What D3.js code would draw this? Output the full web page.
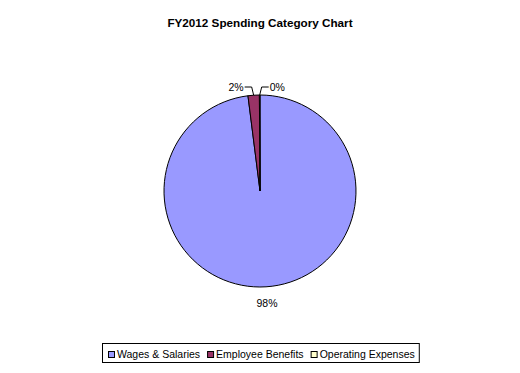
<!DOCTYPE html>
<html>
<head>
<meta charset="utf-8">
<script src="https://cdn.jsdelivr.net/npm/d3@7"></script>
<style>
  body { margin: 0; background: #fff; }
  text { font-family: Arial, "Liberation Sans", sans-serif; }
</style>
</head>
<body>
<div class="chart"></div>
<script>
const categories = ["Wages & Salaries", "Employee Benefits", "Operating Expenses"];
const values = [98.0, 1.9, 0.1];
const pctLabels = ["98%", "2%", "0%"];
const colors = ["#9999FF", "#993366", "#FFFFCC"];

const w = 520, h = 373;
const cx = 260, cy = 191, r = 96;

const svg = d3.select('.chart')
    .append('svg')
    .attr('width', w)
    .attr('height', h);

svg.append('rect').attr('width', w).attr('height', h).attr('fill', '#fff');

// title
svg.append('text')
    .attr('x', 260)
    .attr('y', 27)
    .attr('text-anchor', 'middle')
    .attr('font-size', 11.7)
    .attr('font-weight', 'bold')
    .text('FY2012 Spending Category Chart');

const pie = d3.pie().sort(null).value(d => d);
const arcs = pie(values);
const arc = d3.arc().innerRadius(0).outerRadius(r);

const g = svg.append('g').attr('transform', `translate(${cx},${cy})`);

g.selectAll('path')
    .data(arcs)
    .enter()
    .append('path')
    .attr('d', arc)
    .attr('fill', (d, i) => colors[i])
    .attr('stroke', '#000')
    .attr('stroke-width', 1);

// labels
arcs.forEach(function(d, i) {
    const mid = (d.startAngle + d.endAngle) / 2;
    if (d.endAngle - d.startAngle > 0.5) {
        const lr = r + 16;
        g.append('text')
            .attr('x', lr * Math.sin(mid))
            .attr('y', -lr * Math.cos(mid) + 4)
            .attr('text-anchor', 'middle')
            .attr('font-size', 10.5)
            .text(pctLabels[i]);
    } else {
        // small slices get a leader line above the pie
        const side = i === 1 ? -1 : 1;
        const px = r * Math.sin(mid), py = -r * Math.cos(mid);
        const kx = px + side * 2, ky = -r - 8;
        const ex = kx + side * 7;
        g.append('path')
            .attr('d', `M${px},${py}L${kx},${ky}L${ex},${ky}`)
            .attr('fill', 'none')
            .attr('stroke', '#000')
            .attr('stroke-width', 1);
        g.append('text')
            .attr('x', ex + side * 1)
            .attr('y', ky + 4)
            .attr('text-anchor', side < 0 ? 'end' : 'start')
            .attr('font-size', 10.5)
            .text(pctLabels[i]);
    }
});

// legend
const legend = svg.append('g');
const box = legend.append('rect')
    .attr('fill', '#fff')
    .attr('stroke', '#000')
    .attr('stroke-width', 1);

let x = 0;
const items = legend.append('g');
categories.forEach(function(c, i) {
    items.append('rect')
        .attr('x', x + 0.5)
        .attr('y', 351.5)
        .attr('width', 6)
        .attr('height', 6)
        .attr('fill', colors[i])
        .attr('stroke', '#000')
        .attr('stroke-width', 1);
    const t = items.append('text')
        .attr('x', x + 9)
        .attr('y', 358)
        .attr('font-size', 10.5)
        .text(c);
    x += 9 + t.node().getComputedTextLength() + 7;
});
const total = x - 7;
const lx = Math.round(261 - total / 2);
items.attr('transform', `translate(${lx},0)`);
box.attr('x', lx - 5.5)
    .attr('y', 343.5)
    .attr('width', total + 10)
    .attr('height', 19);
</script>
</body>
</html>
